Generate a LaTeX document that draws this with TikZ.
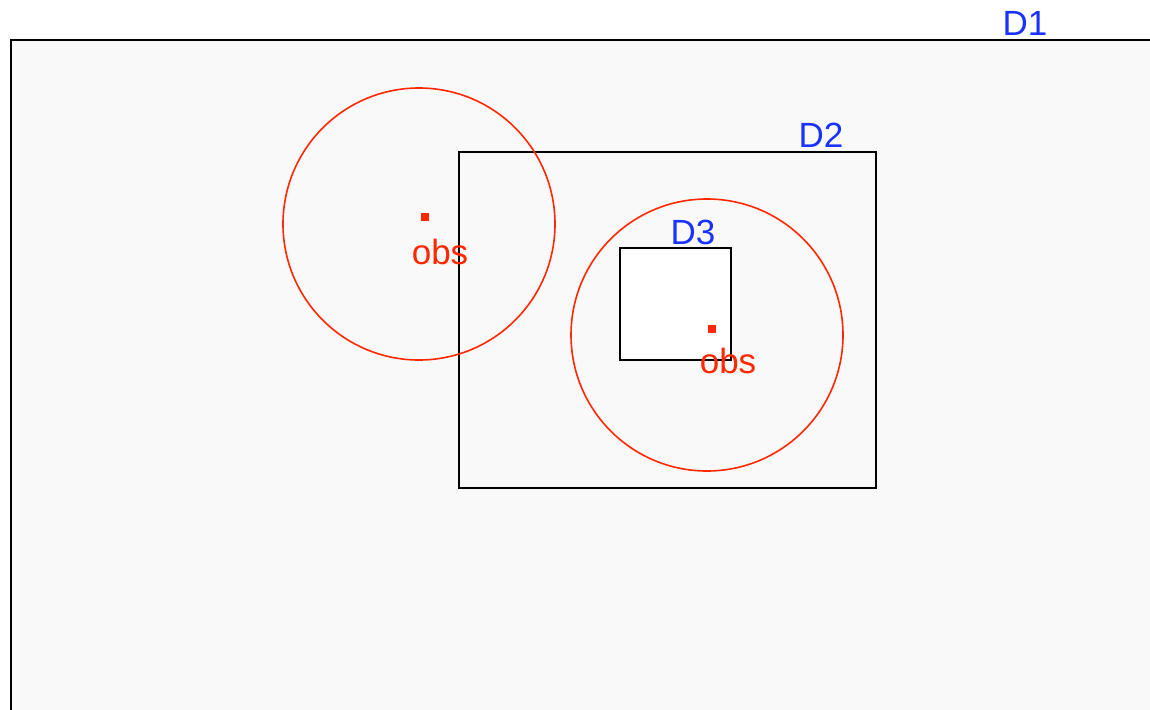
\documentclass[tikz,border=0pt]{standalone}
\usepackage{fontspec}
\setmainfont{Liberation Sans}
\definecolor{domblue}{RGB}{25,50,255}
\definecolor{obsred}{RGB}{255,40,0}
\definecolor{domgray}{RGB}{249,249,249}

\begin{document}
\begin{tikzpicture}[x=1pt,y=-1pt,
    dom box/.style={draw=black,line width=1.8pt,inner sep=0pt},
    obs circle/.style={draw=obsred,line width=1.6pt},
    obs point/.style={fill=obsred,minimum size=8pt,inner sep=0pt},
    dom label/.style={text=domblue,font=\fontsize{35}{40}\selectfont,anchor=base,inner sep=0pt},
    obs label/.style={text=obsred,font=\fontsize{35}{40}\selectfont,anchor=base,inner sep=0pt}]
    \useasboundingbox (0,0) rectangle (1150,709);
    \fill[white] (0,0) rectangle (1150,709);
    % nested domains
    \fill[domgray] (11,40) rectangle (1160,720);
    \draw[dom box] (11,720) -- (11,40) -- (1160,40);
    \node[dom box,fill=domgray,minimum width=417pt,minimum height=336pt] (D2) at (667.5,320) {};
    \node[dom box,fill=white,minimum width=111pt,minimum height=112pt] (D3) at (675.5,304) {};
    % observations and their radius
    \node[obs point] (obs1) at (425,217) {};
    \node[obs point] (obs2) at (712,329) {};
    \draw[obs circle] (419,224) circle (136pt);
    \draw[obs circle] (707,335) circle (136pt);
    \node[obs label] (lobs1) at (440,264) {obs};
    \node[obs label] (lobs2) at (728,373) {obs};
    % domain names
    \node[dom label] (lD1) at (1025,36) {D1};
    \node[dom label] (lD2) at (821,147) {D2};
    \node[dom label] (lD3) at (693,244) {D3};
\end{tikzpicture}
\end{document}
